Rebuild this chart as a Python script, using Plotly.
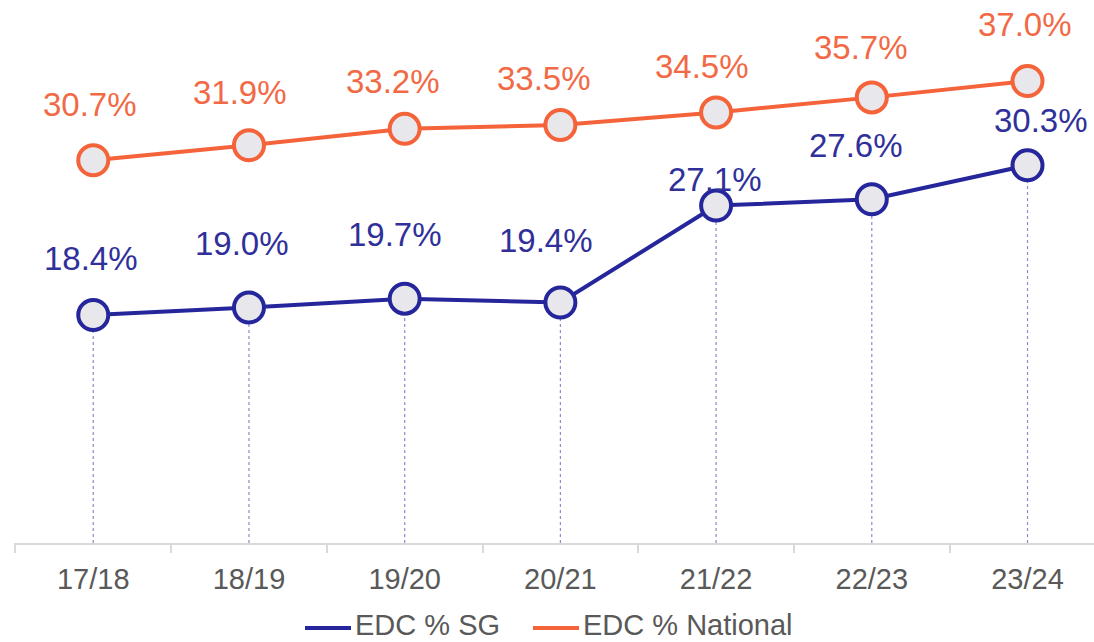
import plotly.graph_objects as go

categories = ["17/18", "18/19", "19/20", "20/21", "21/22", "22/23", "23/24"]
edc_sg = [18.4, 19.0, 19.7, 19.4, 27.1, 27.6, 30.3]
edc_national = [30.7, 31.9, 33.2, 33.5, 34.5, 35.7, 37.0]
series_names = ["EDC % SG", "EDC % National"]

# label placement in pixels relative to each marker (layout tuning)
sg_label_lift = [57, 64, 64, 62, 26, 54, 45]
sg_label_xshift = [-2, -7, -10, -14, -1, -16, 13]
nat_label_lift = [56, 53, 47, 47, 46, 50, 57]
nat_label_xshift = [-3, -9, -12, -16, -14, -11, -3]

BLUE = "#26269c"
ORANGE = "#f5633a"
BLUE_TXT = "#30309a"
ORANGE_TXT = "#f26a45"
FILL = "#e8e8ec"
GREY_TXT = "#595959"

Y_MIN = 0.28
Y_MAX = 43.44
ML, MB, W, H = 14, 99, 1094, 642
PW, PH = W - ML, H - MB

fig = go.Figure()

for name, vals, col in [(series_names[0], edc_sg, BLUE), (series_names[1], edc_national, ORANGE)]:
    fig.add_trace(go.Scatter(
        x=categories, y=vals, name=name, mode="lines+markers",
        line=dict(color=col, width=4),
        marker=dict(size=30, color=FILL, line=dict(color=col, width=4)),
        cliponaxis=False, showlegend=False, hoverinfo="skip",
    ))

for c, v in zip(categories, edc_sg):
    fig.add_shape(type="line", xref="x", yref="y", x0=c, x1=c, y0=Y_MIN, y1=v,
                  line=dict(color="#8a8ad0", width=1.2, dash="dot"), layer="below")

for c, v, lift, xs in zip(categories, edc_sg, sg_label_lift, sg_label_xshift):
    fig.add_annotation(x=c, y=v, text=f"{v:.1f}%", showarrow=False, yshift=lift, xshift=xs,
                       yanchor="middle", font=dict(size=33, color=BLUE_TXT))
for c, v, lift, xs in zip(categories, edc_national, nat_label_lift, nat_label_xshift):
    fig.add_annotation(x=c, y=v, text=f"{v:.1f}%", showarrow=False, yshift=lift, xshift=xs,
                       yanchor="middle", font=dict(size=33, color=ORANGE_TXT))

# legend drawn in paper coordinates (line swatch + label)
def px(xp):
    return (xp - ML) / PW

leg_line_y = (PH - 628) / PH
leg_text_y = (PH - 625) / PH
for name, col, x_start in [(series_names[0], BLUE, 305), (series_names[1], ORANGE, 533)]:
    fig.add_shape(type="line", xref="paper", yref="paper", x0=px(x_start), x1=px(x_start + 46),
                  y0=leg_line_y, y1=leg_line_y, line=dict(color=col, width=4))
    fig.add_annotation(xref="paper", yref="paper", x=px(x_start + 48), y=leg_text_y, text=name,
                       showarrow=False, xanchor="left", yanchor="middle",
                       font=dict(size=29, color=GREY_TXT))

fig.update_layout(
    width=W, height=H,
    margin=dict(l=ML, r=0, t=0, b=MB, autoexpand=False),
    paper_bgcolor="white", plot_bgcolor="white",
    font=dict(family="Liberation Sans, Arial, sans-serif", color=GREY_TXT),
    showlegend=False,
    hovermode=False,
    xaxis=dict(type="category", range=[-0.509, 6.427], showgrid=False, zeroline=False,
               automargin=False,
               showline=True, linecolor="#d9d9d9", linewidth=2,
               ticks="outside", tickson="boundaries", ticklen=8, tickcolor="#d9d9d9", tickwidth=2,
               ticklabelstandoff=9,
               tickfont=dict(size=29, color=GREY_TXT)),
    yaxis=dict(range=[Y_MIN, Y_MAX], visible=False, showgrid=False, zeroline=False,
               automargin=False),
)

fig.write_html("out.html", config={"displayModeBar": False},
               post_script="document.body.style.margin='0';document.body.style.overflow='hidden';")
